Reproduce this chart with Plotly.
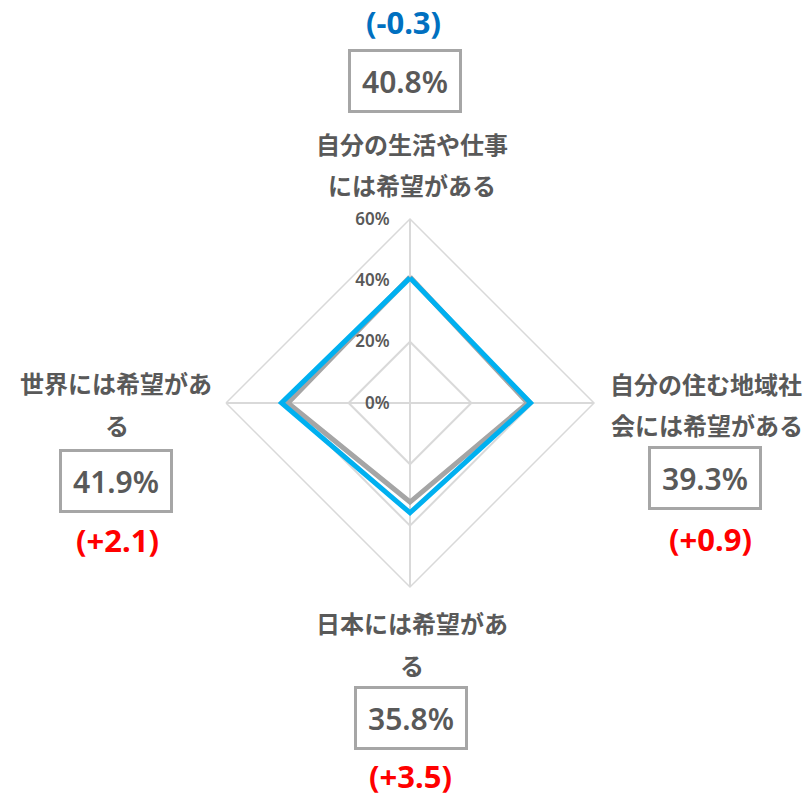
import plotly.graph_objects as go

# ---- data ----
categories = ["自分の生活や仕事には希望がある", "自分の住む地域社会には希望がある",
              "日本には希望がある", "世界には希望がある"]
label_lines = [["自分の生活や仕事", "には希望がある"],
               ["自分の住む地域社", "会には希望がある"],
               ["日本には希望があ", "る"],
               ["世界には希望があ", "る"]]
current = [40.8, 39.3, 35.8, 41.9]
previous = [41.1, 38.4, 32.3, 39.8]
change = [-0.3, 0.9, 3.5, 2.1]
tick_vals = [0, 20, 40, 60]
tick_text = ["0%", "20%", "40%", "60%"]

W, H = 807, 796
FONT = "Noto Sans CJK JP, Noto Sans, sans-serif"
TXT = "#595959"

fig = go.Figure()
fig.add_trace(go.Scatterpolar(
    r=previous + previous[:1], theta=categories + categories[:1],
    mode="lines", line=dict(color="#A5A5A5", width=5), name="前回",
    hoverinfo="skip"))
fig.add_trace(go.Scatterpolar(
    r=current + current[:1], theta=categories + categories[:1],
    mode="lines", line=dict(color="#00B0F0", width=5), name="今回",
    hoverinfo="skip"))

# layout positions (pixels) for label groups: [line1, line2, box, change]
pos = [
    dict(lines=[(412, 143), (412, 185)], box=(405, 81), chg=(403, 22)),
    dict(lines=[(706, 383), (707, 424)], box=(705, 478), chg=(710, 539)),
    dict(lines=[(412, 622), (412, 664)], box=(411, 718), chg=(410, 776)),
    dict(lines=[(116, 382), (117, 425)], box=(116, 481), chg=(117, 540)),
]

def px(x, y):
    return x / W, 1 - y / H

anns = []
for i in range(len(categories)):
    p = pos[i]
    for txt, (x, y) in zip(label_lines[i], p["lines"]):
        ax, ay = px(x, y)
        anns.append(dict(text=txt, x=ax, y=ay, xref="paper", yref="paper",
                         xanchor="center", yanchor="middle", showarrow=False,
                         font=dict(family=FONT, size=24, color=TXT, weight="bold")))
    bx, by = px(*p["box"])
    anns.append(dict(text=f"{current[i]:.1f}%", x=bx, y=by, xref="paper", yref="paper",
                     xanchor="center", yanchor="middle", showarrow=False,
                     width=106, height=56, borderpad=1, borderwidth=3,
                     bordercolor="#A6A6A6", bgcolor="white",
                     font=dict(family="Noto Sans, sans-serif", size=30, color=TXT,
                               weight=600)))
    cx, cy = px(*p["chg"])
    d = change[i]
    anns.append(dict(text=f"({d:+.1f})" if d > 0 else f"({d:.1f})",
                     x=cx, y=cy, xref="paper", yref="paper",
                     xanchor="center", yanchor="middle", showarrow=False,
                     font=dict(family="Noto Sans, sans-serif", size=31, weight="bold",
                               color="#FF0000" if d > 0 else "#0070C0")))

cxp, cyp, R = 410, 403, 184
fig.update_layout(
    width=W, height=H,
    margin=dict(l=0, r=0, t=0, b=0),
    paper_bgcolor="white", plot_bgcolor="white",
    showlegend=False,
    polar=dict(
        domain=dict(x=[(cxp - R) / W, (cxp + R) / W],
                    y=[1 - (cyp + R) / H, 1 - (cyp - R) / H]),
        gridshape="linear",
        bgcolor="white",
        radialaxis=dict(range=[0, 60], tickvals=tick_vals, ticktext=tick_text,
                        angle=90, tickangle=90, side="counterclockwise",
                        showline=False, ticks="outside", ticklen=14, tickcolor="rgba(0,0,0,0)",
                        gridcolor="#D9D9D9", gridwidth=1.5,
                        tickfont=dict(family="Noto Sans, sans-serif", size=17,
                                      color=TXT, weight=600)),
        angularaxis=dict(direction="clockwise", rotation=90, showticklabels=False,
                         ticks="", gridcolor="#D9D9D9", gridwidth=1.5,
                         showline=True, linecolor="#D9D9D9", linewidth=1.5),
    ),
    annotations=anns,
)

fig.write_html("out.html")
